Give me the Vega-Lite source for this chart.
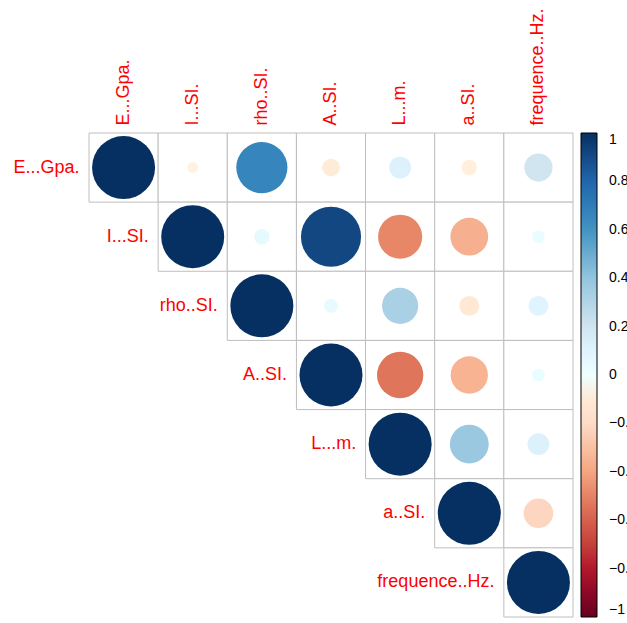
{
  "$schema": "https://vega.github.io/schema/vega-lite/v6.json",
  "width": 484,
  "height": 484,
  "autosize": "none",
  "padding": {"left": 89, "top": 133, "right": 54, "bottom": 6},
  "background": "white",
  "config": {"view": {"stroke": null}, "font": "Liberation Sans"},
  "data": {
    "values": [
      {"row": "E...Gpa.", "col": "E...Gpa.", "r": 1},
      {"row": "E...Gpa.", "col": "I...SI.", "r": -0.03},
      {"row": "E...Gpa.", "col": "rho..SI.", "r": 0.66},
      {"row": "E...Gpa.", "col": "A..SI.", "r": -0.08},
      {"row": "E...Gpa.", "col": "L...m.", "r": 0.12},
      {"row": "E...Gpa.", "col": "a..SI.", "r": -0.06},
      {"row": "E...Gpa.", "col": "frequence..Hz.", "r": 0.2},
      {"row": "I...SI.", "col": "I...SI.", "r": 1},
      {"row": "I...SI.", "col": "rho..SI.", "r": 0.06},
      {"row": "I...SI.", "col": "A..SI.", "r": 0.91},
      {"row": "I...SI.", "col": "L...m.", "r": -0.49},
      {"row": "I...SI.", "col": "a..SI.", "r": -0.36},
      {"row": "I...SI.", "col": "frequence..Hz.", "r": 0.04},
      {"row": "rho..SI.", "col": "rho..SI.", "r": 1},
      {"row": "rho..SI.", "col": "A..SI.", "r": 0.05},
      {"row": "rho..SI.", "col": "L...m.", "r": 0.33},
      {"row": "rho..SI.", "col": "a..SI.", "r": -0.1},
      {"row": "rho..SI.", "col": "frequence..Hz.", "r": 0.1},
      {"row": "A..SI.", "col": "A..SI.", "r": 1},
      {"row": "A..SI.", "col": "L...m.", "r": -0.54},
      {"row": "A..SI.", "col": "a..SI.", "r": -0.35},
      {"row": "A..SI.", "col": "frequence..Hz.", "r": 0.04},
      {"row": "L...m.", "col": "L...m.", "r": 1},
      {"row": "L...m.", "col": "a..SI.", "r": 0.38},
      {"row": "L...m.", "col": "frequence..Hz.", "r": 0.12},
      {"row": "a..SI.", "col": "a..SI.", "r": 1},
      {"row": "a..SI.", "col": "frequence..Hz.", "r": -0.22},
      {"row": "frequence..Hz.", "col": "frequence..Hz.", "r": 1}
    ]
  },
  "encoding": {
    "x": {
      "field": "col", "type": "nominal",
      "scale": {"domain": ["E...Gpa.", "I...SI.", "rho..SI.", "A..SI.", "L...m.", "a..SI.", "frequence..Hz."], "paddingInner": 0, "paddingOuter": 0},
      "axis": {"orient": "top", "title": null, "labelAngle": -90, "labelAlign": "left", "labelBaseline": "middle", "labelPadding": 8, "domain": false, "ticks": false, "labelColor": "#FF0000", "labelFontSize": 18, "labelFont": "Liberation Sans", "labelLimit": 300}
    },
    "y": {
      "field": "row", "type": "nominal",
      "scale": {"domain": ["E...Gpa.", "I...SI.", "rho..SI.", "A..SI.", "L...m.", "a..SI.", "frequence..Hz."], "paddingInner": 0, "paddingOuter": 0},
      "axis": null
    }
  },
  "layer": [
    {
      "mark": {"type": "rect", "fill": "white", "stroke": "#BEBEBE", "strokeWidth": 1}
    },
    {
      "mark": {"type": "circle", "opacity": 1, "strokeWidth": 0},
      "encoding": {
        "color": {
          "field": "r", "type": "quantitative",
          "scale": {
            "type": "linear",
            "domain": [-1, -0.8, -0.6, -0.4, -0.2, 0, 0.2, 0.4, 0.6, 0.8, 1],
            "range": ["#67001F", "#B2182B", "#D6604D", "#F4A582", "#FDDBC7", "#FFFFFF", "#D1E5F0", "#92C5DE", "#4393C3", "#2166AC", "#053061"]
          },
          "legend": {
            "orient": "none", "legendX": 492, "legendY": 0, "direction": "vertical",
            "title": null, "gradientLength": 484, "gradientThickness": 16,
            "gradientStrokeColor": "black", "gradientStrokeWidth": 1,
            "values": [-1, -0.8, -0.6, -0.4, -0.2, 0, 0.2, 0.4, 0.6, 0.8, 1],
            "format": "~g", "labelFontSize": 14, "labelOffset": 12, "labelColor": "black",
            "labelOverlap": false, "labelBaseline": "middle", "labelFont": "Liberation Sans"
          }
        },
        "size": {
          "field": "r", "type": "quantitative",
          "scale": {"type": "linear", "domain": [-1, 0, 1], "range": [3970, 0, 3970]},
          "legend": null
        }
      }
    },
    {
      "transform": [{"filter": "datum.row === datum.col"}],
      "mark": {"type": "text", "align": "right", "baseline": "middle", "dx": -44, "fontSize": 18, "color": "#FF0000", "font": "Liberation Sans"},
      "encoding": {"text": {"field": "row"}}
    }
  ]
}
